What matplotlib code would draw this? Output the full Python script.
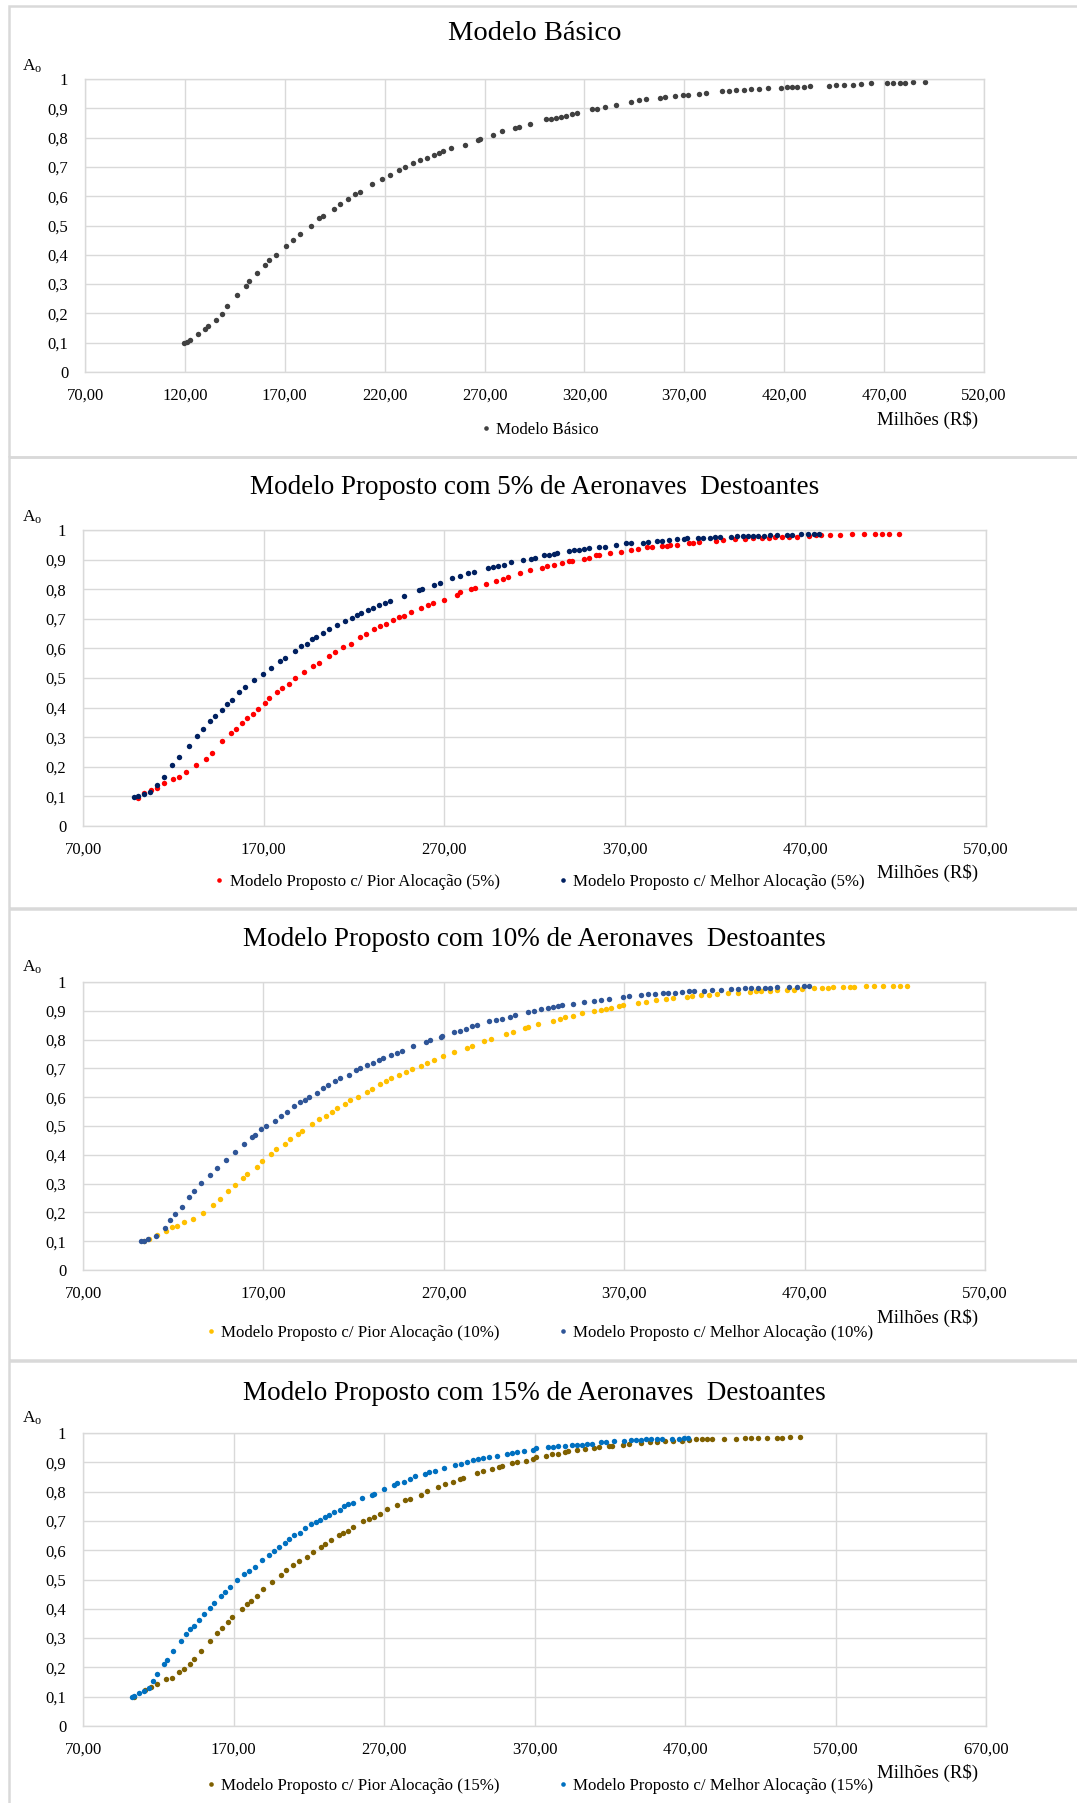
import matplotlib
matplotlib.use("Agg")
import matplotlib.pyplot as plt
from matplotlib.patches import Rectangle

plt.rcParams['font.family'] = ['Liberation Serif', 'DejaVu Serif']
plt.rcParams['mathtext.fontset'] = 'custom'
plt.rcParams['mathtext.rm'] = 'Liberation Serif'

# Painel 1 - Modelo Basico
basico_x = [119.8, 121.0, 122.7, 126.5, 129.9, 131.8, 135.5, 138.4, 141.2, 146.3, 150.4, 152.1, 156.0, 160.3,
            162.3, 165.7, 170.5, 174.1, 177.7, 183.3, 187.2, 188.9, 194.4, 197.8, 201.7, 205.2, 207.7, 213.5,
            218.6, 222.9, 227.3, 230.2, 234.0, 237.9, 241.0, 244.7, 247.3, 249.0, 253.3, 260.1, 266.6, 267.8,
            274.3, 278.9, 285.2, 287.4, 292.9, 300.8, 303.4, 305.9, 308.5, 311.0, 313.6, 316.1, 323.7, 326.3,
            330.5, 335.6, 343.2, 347.5, 350.8, 357.6, 360.2, 365.3, 369.5, 372.0, 377.1, 380.8, 389.0, 392.4,
            395.8, 400.0, 403.4, 407.6, 411.9, 418.6, 421.2, 423.7, 426.3, 429.7, 433.1, 442.4, 445.8, 450.0,
            454.3, 458.5, 463.6, 471.2, 474.6, 477.9, 480.5, 484.7, 490.7]
basico_y = [0.099, 0.104, 0.110, 0.129, 0.148, 0.156, 0.178, 0.199, 0.226, 0.263, 0.294, 0.309, 0.337, 0.365,
            0.383, 0.400, 0.430, 0.451, 0.470, 0.498, 0.524, 0.532, 0.555, 0.572, 0.591, 0.607, 0.615, 0.640,
            0.658, 0.674, 0.691, 0.700, 0.712, 0.722, 0.732, 0.741, 0.749, 0.754, 0.764, 0.776, 0.792, 0.796,
            0.810, 0.822, 0.834, 0.837, 0.846, 0.863, 0.865, 0.868, 0.872, 0.875, 0.879, 0.885, 0.897, 0.899,
            0.905, 0.910, 0.922, 0.927, 0.931, 0.935, 0.937, 0.941, 0.944, 0.947, 0.949, 0.952, 0.959, 0.960,
            0.961, 0.964, 0.965, 0.967, 0.968, 0.970, 0.971, 0.972, 0.973, 0.974, 0.975, 0.977, 0.979, 0.980,
            0.981, 0.982, 0.985, 0.986, 0.987, 0.988, 0.988, 0.989, 0.991]

# Painel 2 - 5%
pior5_x = [100.2, 104.0, 107.8, 110.8, 115.0, 120.1, 122.9, 127.3, 132.4, 138.1, 141.3, 147.1, 152.0, 154.7,
           158.1, 160.9, 164.1, 167.0, 170.8, 173.0, 177.2, 180.0, 183.8, 187.2, 192.5, 197.4, 200.4, 206.3,
           209.7, 214.0, 218.4, 223.5, 226.5, 231.1, 234.5, 237.9, 241.5, 244.9, 247.7, 251.7, 257.1, 261.3,
           263.8, 270.0, 277.0, 278.9, 284.9, 286.8, 293.4, 298.7, 302.5, 305.3, 312.0, 317.6, 324.1, 326.9,
           330.6, 335.3, 339.1, 340.9, 347.5, 350.3, 354.1, 355.9, 361.6, 368.1, 373.7, 377.5, 382.2, 385.0,
           390.6, 393.4, 395.3, 399.1, 405.6, 407.5, 411.2, 420.6, 424.4, 430.9, 436.5, 441.2, 445.9, 449.7,
           453.4, 457.2, 460.9, 465.6, 472.2, 475.9, 478.7, 483.4, 489.0, 495.6, 502.7, 508.7, 512.5, 516.2,
           521.8]
pior5_y = [0.096, 0.111, 0.122, 0.129, 0.145, 0.160, 0.167, 0.181, 0.206, 0.228, 0.247, 0.286, 0.314, 0.329,
           0.349, 0.365, 0.380, 0.396, 0.416, 0.431, 0.452, 0.465, 0.481, 0.500, 0.519, 0.541, 0.551, 0.575,
           0.588, 0.604, 0.616, 0.639, 0.648, 0.665, 0.677, 0.684, 0.696, 0.705, 0.711, 0.722, 0.737, 0.746,
           0.754, 0.765, 0.782, 0.789, 0.800, 0.804, 0.817, 0.828, 0.836, 0.842, 0.854, 0.864, 0.873, 0.877,
           0.881, 0.887, 0.894, 0.896, 0.903, 0.907, 0.914, 0.916, 0.921, 0.924, 0.931, 0.936, 0.943, 0.944,
           0.946, 0.947, 0.948, 0.950, 0.956, 0.957, 0.959, 0.964, 0.966, 0.968, 0.971, 0.973, 0.973, 0.974,
           0.975, 0.976, 0.977, 0.978, 0.980, 0.982, 0.982, 0.983, 0.983, 0.985, 0.985, 0.985, 0.985, 0.985,
           0.985]
melhor5_x = [98.4, 100.2, 104.0, 106.9, 111.2, 115.0, 119.5, 123.3, 128.6, 133.0, 136.7, 140.3, 143.0, 147.1,
             149.8, 152.4, 156.6, 159.8, 164.9, 169.4, 174.0, 178.9, 181.9, 187.6, 190.6, 193.8, 197.0, 198.9,
             202.9, 206.1, 210.8, 215.2, 218.8, 221.6, 223.9, 227.8, 230.7, 234.1, 237.3, 240.1, 247.7, 255.8,
             257.7, 264.1, 267.9, 274.2, 278.5, 283.2, 286.4, 294.0, 296.8, 299.7, 302.9, 307.2, 313.9, 318.0,
             320.3, 325.0, 327.8, 330.6, 332.5, 339.1, 341.9, 344.7, 347.5, 350.3, 355.9, 358.8, 365.3, 370.9,
             373.7, 380.3, 383.1, 387.8, 390.6, 394.4, 399.1, 402.8, 404.7, 410.3, 413.1, 416.9, 419.7, 422.5,
             429.0, 431.9, 435.6, 438.4, 441.2, 444.0, 446.9, 450.6, 454.3, 460.0, 462.8, 467.5, 471.2, 475.0,
             477.8]
melhor5_y = [0.098, 0.101, 0.109, 0.114, 0.137, 0.167, 0.205, 0.233, 0.270, 0.303, 0.329, 0.355, 0.370, 0.392,
             0.412, 0.427, 0.452, 0.468, 0.493, 0.515, 0.535, 0.557, 0.569, 0.591, 0.607, 0.616, 0.631, 0.637,
             0.652, 0.664, 0.680, 0.692, 0.703, 0.713, 0.720, 0.730, 0.738, 0.745, 0.755, 0.761, 0.778, 0.796,
             0.802, 0.815, 0.822, 0.837, 0.845, 0.854, 0.858, 0.871, 0.875, 0.879, 0.883, 0.891, 0.900, 0.903,
             0.907, 0.914, 0.917, 0.920, 0.923, 0.928, 0.931, 0.933, 0.936, 0.939, 0.942, 0.944, 0.951, 0.956,
             0.955, 0.957, 0.959, 0.964, 0.964, 0.967, 0.968, 0.971, 0.972, 0.974, 0.974, 0.974, 0.975, 0.977,
             0.978, 0.980, 0.980, 0.980, 0.980, 0.980, 0.981, 0.982, 0.982, 0.982, 0.982, 0.985, 0.985, 0.985,
             0.985]

# Painel 3 - 10%
pior10_x = [104.0, 106.5, 111.2, 115.9, 119.1, 122.0, 125.8, 130.9, 136.6, 142.3, 145.8, 150.6, 154.1, 158.5,
            161.1, 166.4, 169.4, 174.0, 177.2, 182.1, 184.7, 189.1, 191.4, 197.2, 201.0, 204.8, 208.0, 211.0,
            215.2, 218.2, 222.2, 227.3, 230.1, 234.5, 237.7, 240.9, 245.2, 249.0, 252.6, 257.1, 260.9, 264.3,
            269.6, 275.7, 282.7, 285.5, 292.1, 295.9, 304.4, 308.6, 314.8, 316.7, 322.1, 330.6, 334.3, 337.1,
            341.8, 346.5, 353.1, 356.9, 359.7, 362.9, 367.2, 369.6, 377.5, 382.2, 387.8, 392.9, 397.2, 404.7,
            407.6, 412.3, 416.9, 421.3, 427.8, 432.9, 439.5, 443.2, 446.1, 450.8, 454.5, 460.1, 463.9, 468.6,
            475.2, 479.9, 482.7, 485.5, 491.1, 494.9, 497.3, 503.9, 508.6, 513.3, 518.9, 523.1, 526.8]
pior10_y = [0.099, 0.109, 0.122, 0.134, 0.148, 0.154, 0.166, 0.178, 0.199, 0.224, 0.247, 0.276, 0.296, 0.321,
            0.335, 0.358, 0.380, 0.403, 0.419, 0.438, 0.454, 0.471, 0.483, 0.506, 0.523, 0.536, 0.550, 0.561,
            0.577, 0.590, 0.599, 0.619, 0.629, 0.645, 0.656, 0.665, 0.678, 0.688, 0.699, 0.710, 0.720, 0.730,
            0.743, 0.757, 0.771, 0.778, 0.794, 0.801, 0.821, 0.827, 0.842, 0.845, 0.853, 0.865, 0.872, 0.877,
            0.882, 0.891, 0.898, 0.903, 0.906, 0.910, 0.917, 0.920, 0.927, 0.931, 0.936, 0.941, 0.945, 0.949,
            0.951, 0.954, 0.956, 0.960, 0.963, 0.963, 0.966, 0.968, 0.969, 0.970, 0.971, 0.972, 0.973, 0.976,
            0.979, 0.979, 0.980, 0.981, 0.981, 0.981, 0.981, 0.985, 0.985, 0.985, 0.985, 0.985, 0.985]
melhor10_x = [102.1, 103.6, 105.9, 110.3, 115.4, 118.4, 121.0, 124.8, 129.0, 131.4, 135.6, 140.5, 144.3, 149.4,
              154.1, 159.2, 163.6, 165.5, 168.9, 171.7, 176.2, 179.6, 182.9, 187.2, 190.4, 192.9, 195.3, 199.9,
              203.3, 205.7, 209.9, 212.7, 217.4, 221.2, 223.5, 227.5, 230.7, 233.9, 236.4, 240.5, 243.9, 247.1,
              253.0, 260.0, 262.2, 268.5, 269.2, 275.7, 278.9, 282.1, 285.9, 288.3, 295.0, 299.1, 302.1, 306.7,
              309.7, 316.7, 320.2, 324.0, 327.7, 330.6, 333.4, 335.3, 341.8, 347.5, 353.1, 356.9, 361.5, 369.1,
              372.8, 379.4, 383.1, 386.9, 391.6, 394.4, 398.2, 401.9, 405.7, 408.5, 414.1, 418.8, 423.5, 429.2,
              432.9, 436.7, 440.4, 444.2, 447.9, 450.8, 454.5, 461.1, 465.8, 469.5, 472.3]
melhor10_y = [0.102, 0.102, 0.107, 0.119, 0.145, 0.173, 0.195, 0.220, 0.253, 0.273, 0.302, 0.331, 0.354, 0.383,
              0.411, 0.438, 0.461, 0.470, 0.490, 0.500, 0.518, 0.535, 0.549, 0.568, 0.582, 0.591, 0.600, 0.616,
              0.633, 0.641, 0.656, 0.665, 0.678, 0.694, 0.700, 0.712, 0.719, 0.730, 0.735, 0.746, 0.755, 0.762,
              0.778, 0.791, 0.797, 0.810, 0.813, 0.827, 0.831, 0.837, 0.846, 0.850, 0.863, 0.868, 0.871, 0.879,
              0.885, 0.895, 0.898, 0.905, 0.910, 0.913, 0.917, 0.919, 0.925, 0.931, 0.934, 0.936, 0.940, 0.948,
              0.950, 0.954, 0.957, 0.958, 0.961, 0.963, 0.963, 0.966, 0.968, 0.969, 0.970, 0.972, 0.973, 0.977,
              0.977, 0.978, 0.979, 0.979, 0.979, 0.979, 0.981, 0.983, 0.983, 0.985, 0.986]

# Painel 4 - 15%
pior15_x = [104.1, 110.9, 115.5, 118.9, 125.2, 129.1, 134.1, 137.0, 140.9, 143.9, 148.4, 154.5, 159.3, 162.5,
            166.1, 169.1, 175.5, 179.1, 181.8, 185.5, 189.3, 195.7, 201.4, 205.2, 209.8, 213.6, 219.1, 222.7,
            228.0, 230.9, 234.8, 239.8, 242.7, 246.1, 249.5, 255.9, 259.8, 263.2, 267.3, 271.8, 278.4, 284.1,
            287.5, 294.5, 298.9, 305.7, 310.2, 316.1, 320.5, 322.7, 332.0, 335.9, 341.6, 346.1, 348.4, 355.2,
            358.6, 364.3, 368.9, 371.1, 377.9, 381.3, 385.8, 390.3, 392.5, 398.2, 403.8, 409.4, 412.8, 419.5,
            421.8, 428.6, 433.1, 440.9, 446.6, 451.1, 456.7, 462.3, 468.0, 472.5, 477.0, 481.5, 484.9, 488.2,
            496.1, 504.0, 509.6, 514.1, 518.6, 524.3, 531.0, 534.4, 540.0, 546.1]
pior15_y = [0.098, 0.123, 0.134, 0.142, 0.159, 0.165, 0.184, 0.194, 0.211, 0.230, 0.256, 0.290, 0.316, 0.335,
            0.354, 0.371, 0.400, 0.418, 0.428, 0.445, 0.466, 0.493, 0.514, 0.533, 0.548, 0.563, 0.578, 0.593,
            0.610, 0.622, 0.636, 0.653, 0.658, 0.667, 0.679, 0.698, 0.706, 0.715, 0.723, 0.741, 0.754, 0.770,
            0.775, 0.789, 0.803, 0.817, 0.825, 0.834, 0.844, 0.848, 0.863, 0.869, 0.878, 0.885, 0.888, 0.896,
            0.902, 0.906, 0.911, 0.918, 0.923, 0.927, 0.930, 0.934, 0.937, 0.941, 0.946, 0.950, 0.952, 0.956,
            0.957, 0.960, 0.962, 0.967, 0.969, 0.970, 0.971, 0.972, 0.974, 0.977, 0.979, 0.980, 0.980, 0.980,
            0.981, 0.981, 0.982, 0.982, 0.983, 0.983, 0.984, 0.984, 0.985, 0.986]
melhor15_x = [102.3, 104.1, 107.5, 110.5, 113.6, 116.6, 119.5, 124.1, 125.7, 129.5, 135.2, 138.2, 140.9, 143.9,
              147.3, 150.2, 154.1, 156.8, 161.4, 164.3, 167.7, 172.3, 177.3, 180.2, 184.1, 188.9, 193.4, 196.6,
              200.2, 204.1, 207.0, 210.5, 213.9, 217.3, 221.8, 225.0, 227.3, 230.7, 233.6, 237.0, 240.5, 243.2,
              246.1, 249.1, 255.2, 262.0, 263.2, 270.0, 276.4, 278.6, 283.0, 287.0, 290.9, 297.3, 300.0, 303.6,
              309.8, 317.0, 321.1, 325.0, 329.1, 332.5, 335.9, 339.8, 345.0, 351.4, 355.2, 358.6, 363.2, 368.9,
              371.1, 379.0, 382.4, 385.8, 390.3, 394.8, 398.2, 401.5, 404.9, 408.3, 413.9, 417.3, 422.9, 429.7,
              434.2, 437.6, 440.9, 444.3, 447.7, 451.1, 454.5, 461.2, 465.7, 469.1, 472.0]
melhor15_y = [0.100, 0.103, 0.112, 0.120, 0.131, 0.154, 0.177, 0.212, 0.226, 0.256, 0.290, 0.314, 0.330, 0.342,
              0.362, 0.382, 0.402, 0.419, 0.442, 0.457, 0.473, 0.497, 0.518, 0.530, 0.544, 0.566, 0.584, 0.596,
              0.611, 0.626, 0.639, 0.651, 0.660, 0.675, 0.689, 0.697, 0.704, 0.715, 0.721, 0.730, 0.738, 0.752,
              0.757, 0.761, 0.777, 0.790, 0.793, 0.809, 0.822, 0.829, 0.834, 0.844, 0.852, 0.861, 0.866, 0.871,
              0.879, 0.891, 0.895, 0.901, 0.907, 0.910, 0.913, 0.918, 0.922, 0.928, 0.931, 0.936, 0.939, 0.943,
              0.949, 0.952, 0.953, 0.954, 0.957, 0.958, 0.959, 0.960, 0.962, 0.964, 0.968, 0.969, 0.971, 0.974,
              0.975, 0.976, 0.977, 0.978, 0.978, 0.979, 0.979, 0.980, 0.981, 0.982, 0.984]

W, H = 1077, 1803
fig = plt.figure(figsize=(W / 100, H / 100), dpi=100)
fig.patch.set_facecolor("white")

def px_box(l, t, r, b):
  return [l / W, 1 - b / H, (r - l) / W, (b - t) / H]

# molduras dos graficos
for top, bot in [(6, 457), (457, 908), (909, 1360), (1361, 1812)]:
  fig.add_artist(Rectangle((9 / W, 1 - bot / H), (1090 - 9) / W, (bot - top) / H,
                           transform=fig.transFigure, fill=False, edgecolor="#d9d9d9", lw=1.8))

def panel(box, title, title_y, title_size, xmax, xstep, series, leg_y, milhoes_y, ao_y):
  ax = fig.add_axes(px_box(*box))
  for xs, ys, color, label in series:
    ax.plot(xs, ys, linestyle="none", marker="o", markersize=3.9, color=color,
            markeredgewidth=0, label=label)
  ax.set_xlim(70, xmax)
  ax.set_ylim(0, 1)
  ax.set_xticks(range(70, xmax + 1, xstep))
  ax.set_xticklabels(["%d,00" % v for v in range(70, xmax + 1, xstep)])
  yt = [i / 10 for i in range(11)]
  ax.set_yticks(yt)
  ax.set_yticklabels(["0"] + ["0,%d" % i for i in range(1, 10)] + ["1"])
  ax.tick_params(axis="x", length=0, labelsize=12, pad=11, colors="black")
  ax.tick_params(axis="y", length=0, labelsize=12, pad=12, colors="black")
  ax.grid(True, color="#d9d9d9", lw=1)
  ax.set_axisbelow(True)
  for s in ax.spines.values():
    s.set_color("#d9d9d9")
    s.set_linewidth(1)
  cx = (box[0] + box[2]) / 2
  fig.text(cx / W, 1 - title_y / H, title, ha="center", va="center", fontsize=title_size)
  fig.text(22 / W, 1 - ao_y / H, r"$\mathregular{A_o}$", ha="left", va="center", fontsize=12.5)
  fig.text(978 / W, 1 - milhoes_y / H, "Milhões (R$)", ha="right", va="center", fontsize=13.6)
  ax.legend(loc="center", bbox_to_anchor=(540 / W, 1 - leg_y / H), bbox_transform=fig.transFigure,
            ncol=len(series), frameon=False, fontsize=12.2, handlelength=0.5, handletextpad=0.35,
            columnspacing=3.5, markerscale=0.85, borderpad=0)
  return ax

panel((85, 79, 984, 372), "Modelo Básico", 33, 20.5, 520, 50,
      [(basico_x, basico_y, "#404040", "Modelo Básico")], 430, 420, 66)
panel((83, 530, 986, 826), "Modelo Proposto com 5% de Aeronaves  Destoantes", 488, 19.5, 570, 100,
      [(pior5_x, pior5_y, "#ff0000", "Modelo Proposto c/ Pior Alocação (5%)"),
       (melhor5_x, melhor5_y, "#002060", "Modelo Proposto c/ Melhor Alocação (5%)")], 882, 873, 517)
panel((83, 982, 985, 1270), "Modelo Proposto com 10% de Aeronaves  Destoantes", 940, 19.5, 570, 100,
      [(pior10_x, pior10_y, "#ffc000", "Modelo Proposto c/ Pior Alocação (10%)"),
       (melhor10_x, melhor10_y, "#2f5597", "Modelo Proposto c/ Melhor Alocação (10%)")], 1333, 1318, 967)
panel((83, 1433, 986, 1726), "Modelo Proposto com 15% de Aeronaves  Destoantes", 1393, 19.5, 670, 100,
      [(pior15_x, pior15_y, "#7f6000", "Modelo Proposto c/ Pior Alocação (15%)"),
       (melhor15_x, melhor15_y, "#0070c0", "Modelo Proposto c/ Melhor Alocação (15%)")], 1786, 1773, 1418)

plt.savefig("out.png", dpi=100)
